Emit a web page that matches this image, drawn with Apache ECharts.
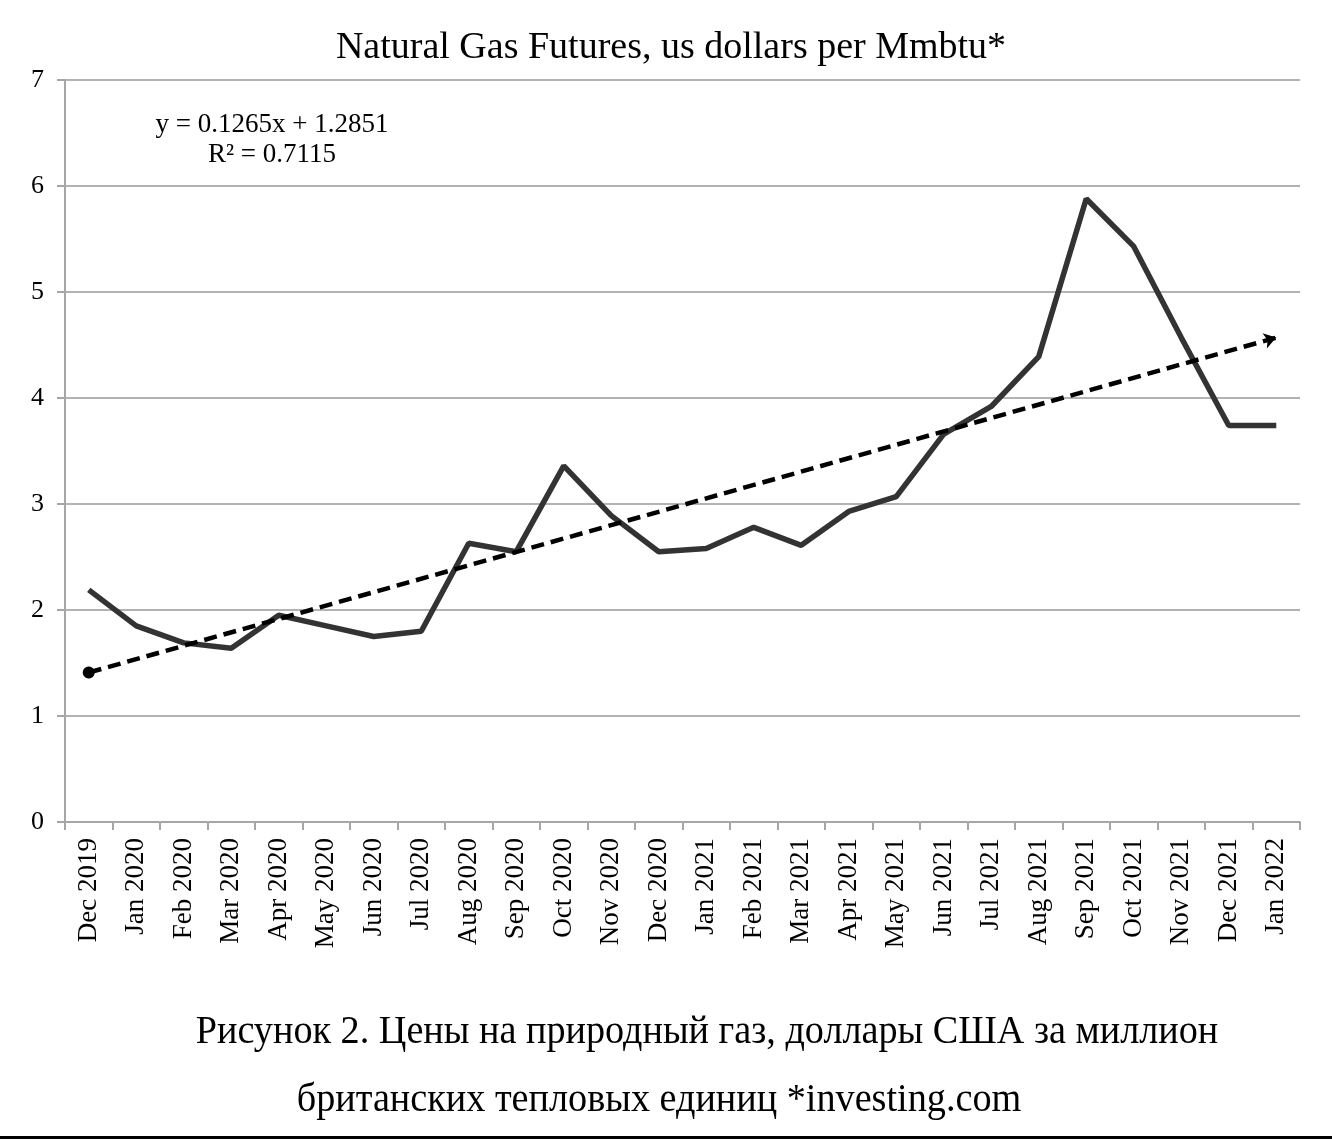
<!DOCTYPE html>
<html>
<head>
<meta charset="utf-8">
<script src="https://cdn.jsdelivr.net/npm/echarts@6/dist/echarts.min.js"></script>
<style>
html,body{margin:0;padding:0;background:#fff;}
#chart{width:1332px;height:1140px;}
</style>
</head>
<body>
<div id="chart"></div>
<script>
const categories = ["Dec 2019","Jan 2020","Feb 2020","Mar 2020","Apr 2020","May 2020","Jun 2020","Jul 2020","Aug 2020","Sep 2020","Oct 2020","Nov 2020","Dec 2020","Jan 2021","Feb 2021","Mar 2021","Apr 2021","May 2021","Jun 2021","Jul 2021","Aug 2021","Sep 2021","Oct 2021","Nov 2021","Dec 2021","Jan 2022"];
const prices = [2.19,1.85,1.69,1.64,1.95,1.85,1.75,1.80,2.63,2.55,3.36,2.89,2.55,2.58,2.78,2.61,2.93,3.07,3.66,3.92,4.39,5.88,5.43,4.57,3.74,3.74];
const trendEnds = [1.41, 4.57];
const yTicks = [0,1,2,3,4,5,6,7];
const titleText = "Natural Gas Futures, us dollars per Mmbtu*";
const equationLines = ["y = 0.1265x + 1.2851", "R² = 0.7115"];
const captionLines = ["Рисунок 2. Цены на природный газ, доллары США за миллион", "британских тепловых единиц *investing.com"];

const serif = '"Liberation Serif","Times New Roman",serif';
const chart = echarts.init(document.getElementById('chart'));
chart.setOption({
  animation:false,
  backgroundColor:'#fff',
  grid:{left:65,right:32,top:80,bottom:318},
  xAxis:{type:'category',data:categories,boundaryGap:true,
    axisLine:{lineStyle:{color:'#a6a6a6',width:2}},
    axisTick:{show:true,length:8,lineStyle:{color:'#a6a6a6',width:2}},
    axisLabel:{rotate:90,interval:0,fontFamily:serif,fontSize:27,color:'#000',margin:16}
  },
  yAxis:{type:'value',min:yTicks[0],max:yTicks[yTicks.length-1],interval:1,
    axisLine:{show:true,lineStyle:{color:'#a6a6a6',width:2}},
    axisTick:{show:true,length:8,lineStyle:{color:'#a6a6a6',width:2}},
    splitLine:{lineStyle:{color:'#b3b3b3',width:2}},
    axisLabel:{fontFamily:serif,fontSize:26,color:'#000',margin:21}
  },
  series:[
    {type:'line',data:prices,symbol:'none',lineStyle:{color:'#333333',width:5.5},z:3,
      markLine:{silent:true,symbol:['circle','arrow'],symbolSize:[12,12],
        lineStyle:{color:'#000',width:4.5,type:[13,7]},label:{show:false},
        data:[[{coord:[0,trendEnds[0]]},{coord:[categories.length-1,trendEnds[1]]}]]
      }
    }
  ],
  graphic:[
    {type:'text',x:671,y:48,style:{text:titleText,font:'38px '+serif,fill:'#000',align:'center',verticalAlign:'middle'}},
    {type:'text',x:272,y:125,style:{text:equationLines[0],font:'27px '+serif,fill:'#000',align:'center',verticalAlign:'middle'}},
    {type:'text',x:272,y:155,style:{text:equationLines[1],font:'27px '+serif,fill:'#000',align:'center',verticalAlign:'middle'}},
    {type:'text',x:707,y:1032,scaleX:0.955,originX:0,originY:0,style:{text:captionLines[0],font:'40px '+serif,fill:'#000',align:'center',verticalAlign:'middle'}},
    {type:'text',x:659,y:1100,scaleX:0.955,originX:0,originY:0,style:{text:captionLines[1],font:'40px '+serif,fill:'#000',align:'center',verticalAlign:'middle'}},
    {type:'rect',shape:{x:0,y:1136,width:1332,height:3},style:{fill:'#000'}}
  ]
});
</script>
</body>
</html>
